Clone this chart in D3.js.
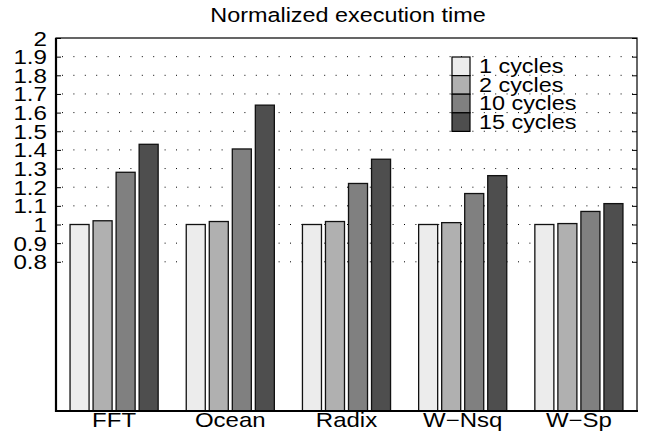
<!DOCTYPE html>
<html>
<head>
<meta charset="utf-8">
<script src="https://cdn.jsdelivr.net/npm/d3@7"></script>
<style>
  html, body { margin: 0; padding: 0; background: #fff; }
  text { font-family: "Liberation Sans", Arial, Helvetica, sans-serif; fill: #000; }
</style>
</head>
<body>
<svg id="chart" width="645" height="434"></svg>
<script>
// Benchmarks and latency settings
const categories = ["FFT", "Ocean", "Radix", "W\u2212Nsq", "W\u2212Sp"];
const seriesNames = ["1 cycles", "2 cycles", "10 cycles", "15 cycles"];
const seriesColors = ["#ececec", "#b0b0b0", "#808080", "#4e4e4e"];

// Normalized execution time per benchmark, one array per setting
const cycles1  = [1.00, 1.00, 1.00, 1.00, 1.00];
const cycles2  = [1.02, 1.016, 1.016, 1.01, 1.005];
const cycles10 = [1.28, 1.405, 1.22, 1.166, 1.07];
const cycles15 = [1.43, 1.64, 1.35, 1.262, 1.112];
const seriesValues = [cycles1, cycles2, cycles10, cycles15];

const yTicks = [0.8, 0.9, 1, 1.1, 1.2, 1.3, 1.4, 1.5, 1.6, 1.7, 1.8, 1.9, 2];
const titleText = "Normalized execution time";

const svg = d3.select("#chart");
const plotLeft = 56, plotRight = 637, plotTop = 38, plotBottom = 411;
const stretch = 1.2;  // horizontally widened lettering

const x0 = d3.scaleBand().domain(categories).range([plotLeft, plotRight]).paddingInner(0).paddingOuter(0);
const x1 = d3.scaleBand().domain(seriesNames).range([0, x0.bandwidth()])
  .paddingInner(0.174).paddingOuter(0.61);
const y = d3.scaleLinear().domain([0, 2]).range([plotBottom, plotTop]);

function label(g, x, yPos, txt, anchor, size, sx) {
  g.append("g")
    .attr("transform", `translate(${x},${yPos}) scale(${sx || stretch},1)`)
    .append("text")
    .attr("text-anchor", anchor)
    .style("font-size", size + "px")
    .text(txt);
}

// Dotted horizontal grid
svg.append("g").selectAll("line")
  .data(yTicks.filter(t => t < 2))
  .join("line")
  .attr("x1", plotLeft).attr("x2", plotRight)
  .attr("y1", d => y(d)).attr("y2", d => y(d))
  .attr("stroke", "#000")
  .attr("stroke-width", 1)
  .attr("stroke-dasharray", "1,10.4")
  .attr("stroke-dashoffset", -6);

// Bars
const rows = categories.map((c, i) => ({ cat: c, vals: seriesNames.map((s, k) => ({ s, k, v: seriesValues[k][i] })) }));
svg.append("g").selectAll("g")
  .data(rows)
  .join("g")
  .attr("transform", d => `translate(${x0(d.cat)},0)`)
  .selectAll("rect")
  .data(d => d.vals)
  .join("rect")
  .attr("x", d => x1(d.s))
  .attr("width", x1.bandwidth())
  .attr("y", d => y(d.v))
  .attr("height", d => y(0) - y(d.v))
  .attr("fill", d => seriesColors[d.k])
  .attr("stroke", "#111")
  .attr("stroke-width", 1.3);

// Inward ticks on both sides
const yAxisL = d3.axisLeft(y).tickValues(yTicks).tickSize(-5).tickFormat("");
svg.append("g").attr("transform", `translate(${plotLeft},0)`).call(yAxisL)
  .call(g => g.select(".domain").remove())
  .call(g => g.selectAll("line").attr("stroke", "#000"));
const yAxisR = d3.axisRight(y).tickValues(yTicks).tickSize(-5).tickFormat("");
svg.append("g").attr("transform", `translate(${plotRight},0)`).call(yAxisR)
  .call(g => g.select(".domain").remove())
  .call(g => g.selectAll("line").attr("stroke", "#000"));

// Tick labels
const tl = svg.append("g");
yTicks.forEach(t => label(tl, 47, y(t) + 7.5, String(t), "end", 21, 1.15));

// Frame
svg.append("rect")
  .attr("x", plotLeft).attr("y", plotTop)
  .attr("width", plotRight - plotLeft).attr("height", plotBottom - plotTop)
  .attr("fill", "none").attr("stroke", "#000").attr("stroke-width", 1.2);
svg.append("line").attr("x1", plotLeft).attr("x2", plotLeft).attr("y1", plotTop).attr("y2", plotBottom + 1)
  .attr("stroke", "#000").attr("stroke-width", 2.2);
svg.append("line").attr("x1", plotLeft - 1).attr("x2", plotRight + 1).attr("y1", plotBottom).attr("y2", plotBottom)
  .attr("stroke", "#000").attr("stroke-width", 2.2);

// Category labels
const xl = svg.append("g");
categories.forEach(c => label(xl, x0(c) + x0.bandwidth() / 2, 427, c, "middle", 20));

// Title
label(svg, 348, 22, titleText, "middle", 19.5);

// Legend
const lg = svg.append("g");
seriesNames.forEach((s, k) => {
  const yy = 57 + k * 18.6;
  lg.append("rect")
    .attr("x", 452).attr("y", yy)
    .attr("width", 18).attr("height", 18.6)
    .attr("fill", seriesColors[k])
    .attr("stroke", "#000").attr("stroke-width", 1.2);
  label(lg, 479, yy + 16, s, "start", 19.5);
});
</script>
</body>
</html>
